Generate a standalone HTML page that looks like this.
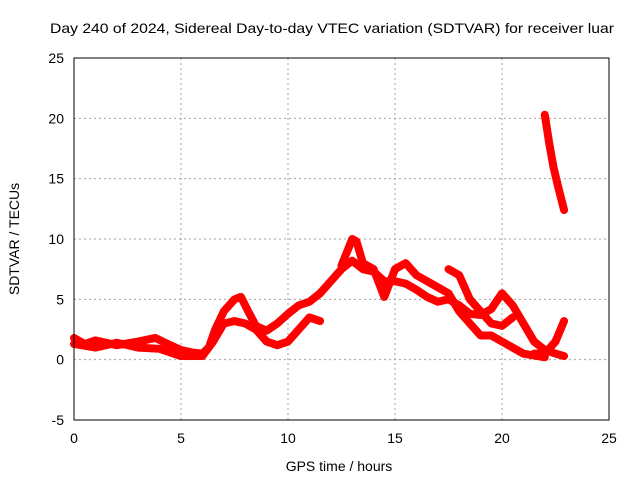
<!DOCTYPE html>
<html><head><meta charset="utf-8"><style>
body{margin:0;background:#fff}
svg{font-family:"Liberation Sans",sans-serif;font-size:14px}
</style></head><body>
<svg id="chart" width="640" height="480">
<text x="50" y="33" textLength="564" lengthAdjust="spacingAndGlyphs">Day 240 of 2024, Sidereal Day-to-day VTEC variation (SDTVAR) for receiver luar</text>
<text x="339" y="471" text-anchor="middle">GPS time / hours</text>
<text transform="translate(19,239) rotate(-90)" text-anchor="middle">SDTVAR / TECUs</text>
<g id="grid"></g><g id="ticks"></g><g id="series"></g>
<rect x="74" y="58" width="535" height="362" fill="none" stroke="#000" stroke-width="1"/>
</svg>
<script>
const xTicks=[0,5,10,15,20,25];
const yTicks=[-5,0,5,10,15,20,25];
const traceA=[[0,1.8],[0.5,1.3],[1,1.6],[2,1.2],[3,1.5],[3.8,1.8],[4.5,1.2],[5,0.8],[5.5,0.6],[6,0.5],[6.3,1],[6.6,2.5],[7,4],[7.5,5],[7.8,5.2],[8.2,3.8],[8.5,2.8],[9,2.4],[9.5,3],[10,3.8],[10.5,4.5],[11,4.8],[11.5,5.5],[12,6.5],[12.5,7.5],[13,8.2],[13.5,7.5],[14,7.3],[14.5,6.5],[15,6.5],[15.5,6.3],[16,5.8],[16.5,5.2],[17,4.8],[17.5,5],[18,4.5],[18.5,3.8],[19,3.7],[19.5,4.2],[20,5.5],[20.5,4.5],[21,3],[21.5,1.5],[22,0.8],[22.5,0.5],[22.9,0.3]];
const traceB=[[0,1.3],[1,1.0],[2,1.4],[3,1.0],[4,0.9],[5,0.3],[6,0.3],[6.5,1.5],[7,3],[7.5,3.2],[8,3.0],[8.5,2.5],[9,1.5],[9.5,1.2],[10,1.5],[10.5,2.5],[11,3.5],[11.5,3.2]];
const traceC=[[12.5,7.8],[13,10],[13.2,9.8],[13.5,8],[14,7.5],[14.5,5.2],[15,7.5],[15.5,8],[16,7],[17,6],[17.5,5.5],[18,4],[18.5,3],[19,2],[19.5,2],[20,1.5],[20.5,1],[21,0.5],[22,0.2]];
const traceD=[[17.5,7.5],[18,7],[18.5,5],[19,4],[19.5,3],[20,2.8],[20.5,3.5]];
const traceE=[[21.5,0.5],[22,0.5],[22.5,1.5],[22.9,3.2]];
const traceF=[[22,20.3],[22.2,18],[22.4,16],[22.6,14.5],[22.9,12.4]];
const traces=[traceA,traceB,traceC,traceD,traceE,traceF];
const NS="http://www.w3.org/2000/svg";
const X=v=>74+v*535/25, Y=v=>420-(v+5)*362/30;
const g=document.getElementById('grid'),t=document.getElementById('ticks'),s=document.getElementById('series');
function mk(tag,a,p){const e=document.createElementNS(NS,tag);for(const k in a)e.setAttribute(k,a[k]);p.appendChild(e);return e;}
xTicks.forEach(v=>{
 if(v>0&&v<25){const l=mk('line',{x1:X(v),x2:X(v),y1:58,y2:420,stroke:'#a0a0a0','stroke-dasharray':'2,3'},g);
 
 }
 const tx=mk('text',{x:X(v),y:443,'text-anchor':'middle'},t);tx.textContent=v;
 
 
});
yTicks.forEach(v=>{
 if(v>-5&&v<25){const l=mk('line',{x1:74,x2:609,y1:Y(v),y2:Y(v),stroke:'#a0a0a0','stroke-dasharray':'2,3'},g);
 
 }
 const tx=mk('text',{x:64,y:Y(v)+5,'text-anchor':'end'},t);tx.textContent=v;
 
 
});
traces.forEach(tr=>{
 const p=mk('polyline',{points:tr.map(d=>X(d[0])+','+Y(d[1])).join(' '),fill:'none',stroke:'#ff0000','stroke-width':8,'stroke-linejoin':'round','stroke-linecap':'round'},s);
 
 
});
</script>
</body></html>
